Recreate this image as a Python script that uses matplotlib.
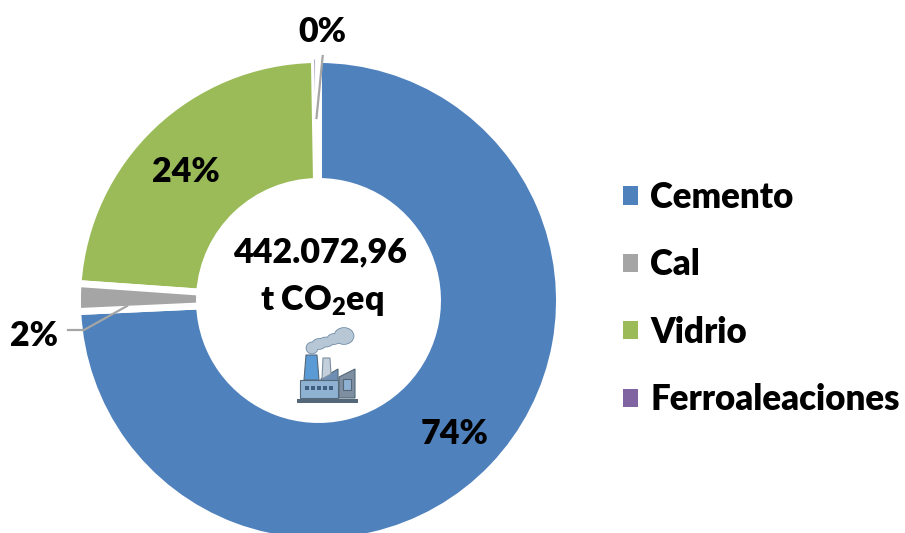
import matplotlib
matplotlib.use('Agg')
import matplotlib.pyplot as plt
from matplotlib.patches import Patch, Polygon, Rectangle, Ellipse

plt.rcParams['font.family'] = ['Lato', 'DejaVu Sans']
plt.rcParams['font.weight'] = 'heavy'
plt.rcParams['mathtext.fontset'] = 'custom'
plt.rcParams['mathtext.bf'] = 'Lato:weight=800'

categories = ['Cemento', 'Cal', 'Vidrio', 'Ferroaleaciones']
values = [74.27, 1.85, 23.61, 0.27]
colors = ['#4F81BD', '#A5A5A5', '#9BBB59', '#8064A2']

W, H = 905, 533
FS = 24.5


def py(y):
    # picture y (from top) to axes y
    return H - y


fig = plt.figure(figsize=(W / 100, H / 100), dpi=100)
ax = fig.add_axes([0, 0, 1, 1])

wedges, _ = ax.pie(values, colors=colors, startangle=90, counterclock=False,
                   center=(318.5, py(300.5)), radius=241,
                   wedgeprops={'width': 122, 'edgecolor': 'white', 'linewidth': 5})
# keep the tiny last slice visible under the white borders
wedges[3].set_linewidth(0)
wedges[3].set_zorder(1)
wedges[0].set_zorder(2)
wedges[1].set_zorder(2)
wedges[2].set_zorder(0.5)

ax.set_xlim(0, W)
ax.set_ylim(0, H)
ax.set_aspect('equal')
ax.axis('off')

# leader lines
ax.plot([322.7, 316.5], [py(56), py(118)], color='#A5A5A5', lw=1.6, zorder=3)
ax.plot([68, 84, 127], [py(330), py(330), py(306)], color='#A5A5A5', lw=1.6, zorder=3)

# data labels
label_pos = [(455, 434), (34, 336), (186, 172), (322, 32)]
for v, (lx, ly) in zip(values, label_pos):
    ax.text(lx, py(ly), f'{v:.0f}%', fontsize=FS, ha='center', va='center',
            color='black', zorder=4)

ax.text(320, py(252), '442.072,96', fontsize=FS, ha='center', va='center', zorder=4)
ax.text(322, py(300), r't CO$_{\mathbf{2}}$eq', fontsize=FS, ha='center', va='center', zorder=4)

# factory icon
line = '#54687A'
ax.add_patch(Rectangle((297, py(403)), 61, 4, fc=line, ec='none', zorder=4))
ax.add_patch(Polygon([(339, py(398)), (339, py(377)), (355, py(369)), (355, py(398))],
                     fc='#7D8FA0', ec=line, lw=0.8, zorder=4))
ax.add_patch(Polygon([(321, py(379)), (338, py(369)), (338, py(398)), (321, py(398))],
                     fc='#6E8FB3', ec=line, lw=0.8, zorder=4))
ax.add_patch(Polygon([(322, py(379)), (323, py(358)), (330, py(358)), (331, py(374))],
                     fc='#C3D0DC', ec='#7D8FA0', lw=0.8, zorder=4))
ax.add_patch(Polygon([(304, py(380)), (306, py(355)), (317, py(355)), (319, py(380))],
                     fc='#5B9BD5', ec=line, lw=0.8, zorder=4))
ax.add_patch(Rectangle((300, py(398)), 38, 18, fc='#8FB2D3', ec=line, lw=0.8, zorder=5))
for wx in [305, 311, 317, 323, 329]:
    ax.add_patch(Rectangle((wx, py(390)), 4, 4, fc='#3E5F80', ec='none', zorder=6))
ax.add_patch(Rectangle((343, py(390)), 8, 11, fc='#8FB2D3', ec=line, lw=0.8, zorder=6))
cloud = [(312, 348, 11, 11), (319, 344, 13, 10), (326, 342, 14, 9),
         (334, 339, 13, 10), (344, 336, 19, 16)]
for cx, cy, ew, eh in cloud:
    ax.add_patch(Ellipse((cx, py(cy)), ew, eh, fc='#B7C7D6', ec='#6F8CA6', lw=1.2, zorder=4))
for cx, cy, ew, eh in cloud:
    ax.add_patch(Ellipse((cx, py(cy)), ew, eh, fc='#B7C7D6', ec='none', zorder=4.1))

# legend
handles = [Patch(facecolor=c, edgecolor='none') for c in colors]
ax.legend(handles, categories, loc='center left', bbox_to_anchor=(623 / W, py(298.5) / H),
          frameon=False, fontsize=25, labelspacing=0.99, handlelength=0.43,
          handleheight=0.43, handletextpad=0.35, borderpad=0, borderaxespad=0)

fig.savefig('out.png', dpi=100)
